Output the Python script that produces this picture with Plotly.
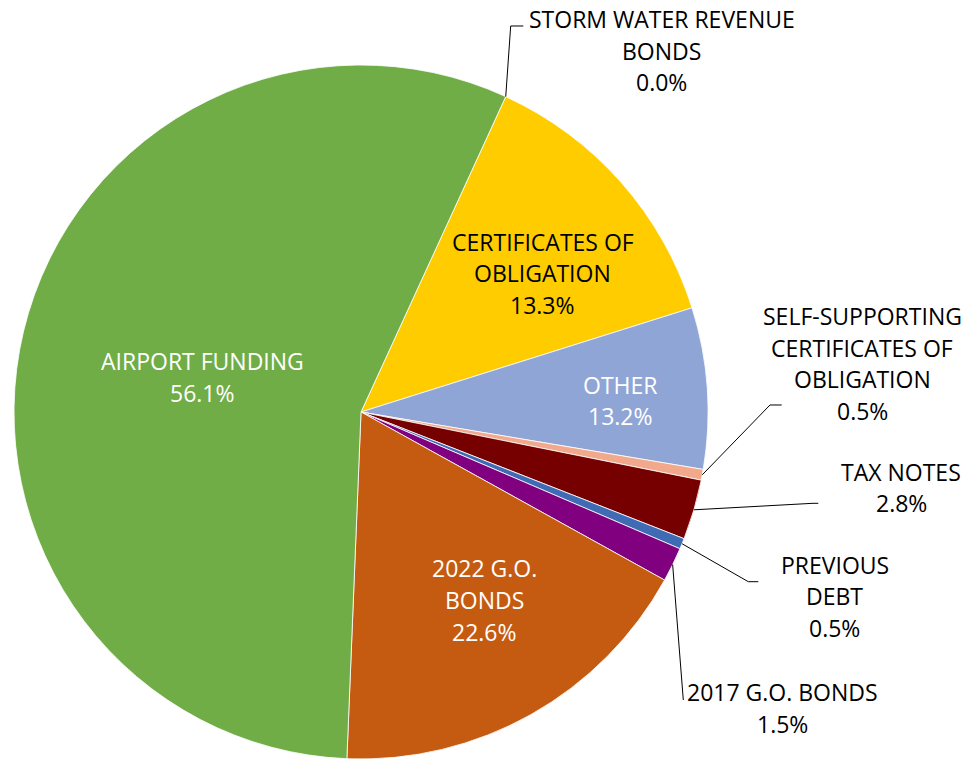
import math
import plotly.graph_objects as go

# ---- data ----
categories = [
    "STORM WATER REVENUE BONDS",
    "CERTIFICATES OF OBLIGATION",
    "OTHER",
    "SELF-SUPPORTING CERTIFICATES OF OBLIGATION",
    "TAX NOTES",
    "PREVIOUS DEBT",
    "2017 G.O. BONDS",
    "2022 G.O. BONDS",
    "AIRPORT FUNDING",
]
slice_values = [0.0, 13.3, 7.5, 0.5, 2.8, 0.5, 1.6, 17.6, 56.2]
pct_labels = ["0.0%", "13.3%", "13.2%", "0.5%", "2.8%", "0.5%", "1.5%", "22.6%", "56.1%"]
label_lines = [
    ["STORM WATER REVENUE", "BONDS"],
    ["CERTIFICATES OF", "OBLIGATION"],
    ["OTHER"],
    ["SELF-SUPPORTING", "CERTIFICATES OF", "OBLIGATION"],
    ["TAX NOTES"],
    ["PREVIOUS", "DEBT"],
    ["2017 G.O. BONDS"],
    ["2022 G.O.", "BONDS"],
    ["AIRPORT FUNDING"],
]
colors = ["#4472C4", "#FFCC00", "#8FA5D6", "#F2A88B", "#760000",
          "#3F6BB5", "#800080", "#C55A11", "#70AD47"]
text_colors = ["black", "black", "white", "black", "black",
               "black", "black", "white", "white"]

# ---- layout (pixel geometry of the 968x760 canvas) ----
W, H = 968, 760
CX, CY, R = 361, 412, 347
ROTATION = 24.65
FONT = "Open Sans"
FSIZE = 23
LINE_H = 31.7

# label anchor: (center x, first line center y) in px
label_pos = [
    (661.5, 19), (542.5, 241.7), (620, 384.7), (862, 316), (901, 471.7),
    (834.5, 564.7), (782, 692), (485, 568.3), (202.5, 361),
]
# leader lines: None for inside labels, else list of px points after the slice edge point
leaders = [
    [(510.7, 26), (523.3, 26)],
    None,
    None,
    [(770, 405), (781.7, 405)],
    [(813, 503.3), (818.3, 503.3)],
    [(748.3, 581.7), (758.3, 581.7)],
    [(683.3, 700)],
    None,
    None,
]


def px(x):
    return x / W


def py(y):
    return 1 - y / H


fig = go.Figure(go.Pie(
    labels=categories,
    values=slice_values,
    sort=False,
    direction="clockwise",
    rotation=ROTATION,
    marker=dict(colors=colors, line=dict(color="white", width=0.8)),
    textinfo="none",
    hoverinfo="label+percent",
    showlegend=False,
    domain=dict(x=[px(CX - R), px(CX + R)], y=[py(CY + R), py(CY - R)]),
))

annotations = []
shapes = []
total = sum(slice_values)
acc = 0.0
for i, cat in enumerate(categories):
    v = slice_values[i]
    mid = ROTATION + (acc + v / 2) / total * 360
    acc += v
    lines = label_lines[i] + [pct_labels[i]]
    lx, ly = label_pos[i]
    for k, t in enumerate(lines):
        annotations.append(dict(
            x=px(lx), y=py(ly + k * LINE_H), xref="paper", yref="paper",
            text=t, showarrow=False, xanchor="center", yanchor="middle",
            font=dict(family=FONT, size=FSIZE, color=text_colors[i]),
        ))
    if leaders[i]:
        a = math.radians(mid)
        sx, sy = CX + R * math.sin(a), CY - R * math.cos(a)
        pts = [(sx, sy)] + leaders[i]
        path = "M " + " L ".join(f"{px(x):.5f},{py(y):.5f}" for x, y in pts)
        shapes.append(dict(type="path", path=path, xref="paper", yref="paper",
                           line=dict(color="black", width=1)))

fig.update_layout(
    width=W, height=H,
    margin=dict(l=0, r=0, t=0, b=0),
    paper_bgcolor="white",
    plot_bgcolor="white",
    annotations=annotations,
    shapes=shapes,
)

fig.write_html(
    "out.html",
    config={"displayModeBar": False},
    post_script="document.body.style.margin='0';document.body.style.overflow='hidden';",
)
